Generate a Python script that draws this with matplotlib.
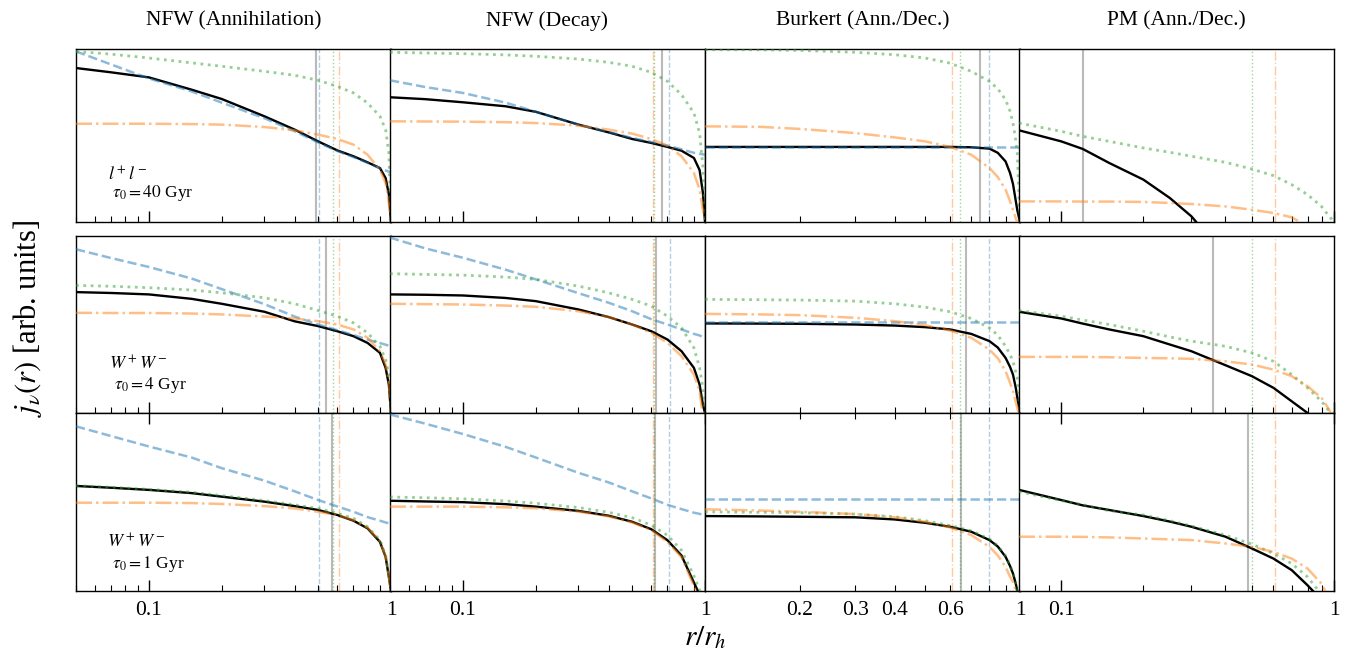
import matplotlib
matplotlib.use("Agg")
import matplotlib.pyplot as plt
from matplotlib.ticker import FixedLocator, NullFormatter, LogLocator

plt.rcParams['font.family'] = 'serif'
plt.rcParams['font.serif'] = ['Liberation Serif', 'DejaVu Serif']
plt.rcParams['mathtext.fontset'] = 'stix'
plt.rcParams['axes.linewidth'] = 1.0

# ---------------- data ----------------
COLUMN_TITLES = ["NFW (Annihilation)", "NFW (Decay)", "Burkert (Ann./Dec.)", "PM (Ann./Dec.)"]
ROW_LABELS = [r"$l^+l^-$", r"$W^+W^-$", r"$W^+W^-$"]
ROW_TAU = [r"$\tau_0=40$ Gyr", r"$\tau_0=4$ Gyr", r"$\tau_0=1$ Gyr"]
XLIMS = [(0.05, 1.0), (0.05, 1.0), (0.1, 1.0), (0.07, 1.0)]

R_NFW = [0.05, 0.07, 0.1, 0.15, 0.2, 0.3, 0.4, 0.5, 0.6, 0.7, 0.8, 0.9, 0.95, 0.98, 1.0]
R_BUR = [0.1, 0.15, 0.2, 0.3, 0.4, 0.5, 0.6, 0.7, 0.8, 0.85, 0.9, 0.93, 0.95, 0.97, 0.98, 1.0]
R_PM = [0.07, 0.1, 0.12, 0.15, 0.2, 0.25, 0.3, 0.4, 0.5, 0.6, 0.7, 0.8, 0.9, 0.95, 1.0]

# row 1: l+l-, tau0 = 40 Gyr
nfwa_ll_total = [0.890, 0.865, 0.836, 0.765, 0.711, 0.611, 0.534, 0.466, 0.414, 0.380, 0.345, 0.312, 0.254, 0.16, 0.0]
nfwa_ll_dashed = [0.986, 0.91, 0.83, 0.755, 0.69, 0.60, 0.525, 0.46, 0.41, 0.375, 0.342, 0.31, 0.298, 0.291, 0.287]
nfwa_ll_dotted = [0.986, 0.97, 0.948, 0.92, 0.900, 0.871, 0.848, 0.819, 0.784, 0.746, 0.688, 0.611, 0.534, 0.40, 0.0]
nfwa_ll_dashdot = [0.568, 0.568, 0.568, 0.566, 0.563, 0.549, 0.530, 0.505, 0.480, 0.447, 0.389, 0.302, 0.225, 0.11, 0.0]

nfwd_ll_total = [0.721, 0.71, 0.692, 0.669, 0.637, 0.563, 0.518, 0.480, 0.457, 0.434, 0.412, 0.37, 0.30, 0.17, 0.0]
nfwd_ll_dashed = [0.819, 0.78, 0.746, 0.69, 0.637, 0.563, 0.52, 0.486, 0.462, 0.441, 0.42, 0.40, 0.394, 0.391, 0.389]
nfwd_ll_dotted = [0.981, 0.977, 0.973, 0.966, 0.958, 0.942, 0.923, 0.900, 0.865, 0.813, 0.736, 0.630, 0.514, 0.32, 0.0]
nfwd_ll_dashdot = [0.582, 0.581, 0.580, 0.577, 0.572, 0.557, 0.534, 0.511, 0.480, 0.441, 0.380, 0.283, 0.187, 0.07, 0.0]

bur_ll_total = [0.434, 0.434, 0.434, 0.434, 0.434, 0.434, 0.434, 0.432, 0.424, 0.40, 0.35, 0.283, 0.22, 0.12, 0.07, 0.0]
bur_ll_dashed = [0.436, 0.436, 0.436, 0.436, 0.436, 0.436, 0.436, 0.436, 0.436, 0.436, 0.436, 0.436, 0.436, 0.436, 0.436, 0.436]
bur_ll_dotted = [0.996, 0.995, 0.992, 0.981, 0.967, 0.948, 0.918, 0.871, 0.813, 0.77, 0.707, 0.64, 0.572, 0.47, 0.40, 0.0]
bur_ll_dashdot = [0.553, 0.550, 0.538, 0.514, 0.489, 0.466, 0.434, 0.389, 0.312, 0.26, 0.187, 0.12, 0.071, 0.02, 0.0, -0.05]

pm_ll_total = [0.530, 0.466, 0.422, 0.341, 0.245, 0.139, 0.033, -0.2, -0.4, -0.5, -0.6, -0.7, -0.8, -0.85, -0.9]
pm_ll_dotted = [0.572, 0.524, 0.495, 0.466, 0.428, 0.403, 0.380, 0.345, 0.306, 0.268, 0.216, 0.158, 0.09, 0.042, 0.0]
pm_ll_dashdot = [0.119, 0.119, 0.118, 0.118, 0.116, 0.11, 0.104, 0.09, 0.071, 0.052, 0.027, -0.025, -0.1, -0.15, -0.2]

# row 2: W+W-, tau0 = 4 Gyr
nfwa_ww4_total = [0.683, 0.678, 0.670, 0.645, 0.617, 0.572, 0.518, 0.491, 0.462, 0.434, 0.396, 0.340, 0.255, 0.160, 0.0]
nfwa_ww4_dashed = [0.925, 0.875, 0.825, 0.76, 0.70, 0.615, 0.545, 0.50, 0.468, 0.44, 0.415, 0.395, 0.386, 0.380, 0.377]
nfwa_ww4_dotted = [0.721, 0.716, 0.708, 0.695, 0.679, 0.651, 0.617, 0.579, 0.547, 0.509, 0.453, 0.377, 0.302, 0.217, 0.0]
nfwa_ww4_dashdot = [0.566, 0.565, 0.565, 0.562, 0.557, 0.545, 0.534, 0.519, 0.500, 0.472, 0.425, 0.349, 0.274, 0.179, 0.0]

nfwd_ww4_total = [0.670, 0.668, 0.664, 0.650, 0.632, 0.585, 0.542, 0.500, 0.462, 0.415, 0.349, 0.255, 0.160, 0.047, 0.0]
nfwd_ww4_dashed = [0.991, 0.93, 0.877, 0.81, 0.755, 0.677, 0.623, 0.575, 0.53, 0.50, 0.472, 0.447, 0.438, 0.43, 0.425]
nfwd_ww4_dotted = [0.787, 0.783, 0.779, 0.768, 0.755, 0.717, 0.679, 0.642, 0.604, 0.547, 0.481, 0.368, 0.255, 0.14, 0.0]
nfwd_ww4_dashdot = [0.617, 0.615, 0.613, 0.607, 0.600, 0.575, 0.542, 0.500, 0.453, 0.396, 0.321, 0.217, 0.123, -0.02, -0.05]

bur_ww4_total = [0.506, 0.505, 0.504, 0.500, 0.494, 0.485, 0.472, 0.447, 0.406, 0.37, 0.311, 0.26, 0.217, 0.14, 0.09, 0.0]
bur_ww4_dashed = [0.515, 0.515, 0.515, 0.515, 0.515, 0.515, 0.515, 0.515, 0.515, 0.515, 0.515, 0.515, 0.515, 0.515, 0.515, 0.515]
bur_ww4_dotted = [0.642, 0.640, 0.638, 0.632, 0.617, 0.598, 0.572, 0.534, 0.481, 0.44, 0.377, 0.33, 0.292, 0.23, 0.198, 0.0]
bur_ww4_dashdot = [0.560, 0.557, 0.553, 0.538, 0.519, 0.496, 0.466, 0.425, 0.358, 0.31, 0.236, 0.17, 0.123, 0.06, 0.03, -0.03]

pm_ww4_total = [0.572, 0.534, 0.505, 0.472, 0.434, 0.387, 0.349, 0.270, 0.208, 0.142, 0.066, 0.0, -0.1, -0.15, -0.2]
pm_ww4_dotted = [0.579, 0.547, 0.525, 0.500, 0.462, 0.43, 0.406, 0.377, 0.340, 0.292, 0.217, 0.142, 0.066, 0.02, 0.0]
pm_ww4_dashdot = [0.317, 0.317, 0.317, 0.315, 0.311, 0.309, 0.306, 0.292, 0.274, 0.245, 0.208, 0.151, 0.085, 0.03, -0.03]

# row 3: W+W-, tau0 = 1 Gyr
nfwa_ww1_total = [0.590, 0.58, 0.568, 0.55, 0.530, 0.502, 0.477, 0.455, 0.427, 0.395, 0.352, 0.276, 0.192, 0.079, 0.0]
nfwa_ww1_dashed = [0.925, 0.87, 0.812, 0.75, 0.690, 0.62, 0.56, 0.511, 0.475, 0.445, 0.415, 0.395, 0.385, 0.38, 0.376]
nfwa_ww1_dotted = [0.592, 0.583, 0.571, 0.555, 0.536, 0.508, 0.484, 0.464, 0.437, 0.408, 0.361, 0.286, 0.201, 0.088, 0.0]
nfwa_ww1_dashdot = [0.496, 0.496, 0.496, 0.494, 0.489, 0.477, 0.464, 0.445, 0.427, 0.398, 0.356, 0.280, 0.195, 0.08, 0.0]

nfwd_ww1_total = [0.507, 0.503, 0.499, 0.488, 0.474, 0.450, 0.423, 0.389, 0.347, 0.285, 0.199, 0.047, -0.02, -0.06, -0.1]
nfwd_ww1_dashed = [0.992, 0.94, 0.882, 0.81, 0.750, 0.664, 0.61, 0.560, 0.52, 0.484, 0.46, 0.44, 0.433, 0.43, 0.427]
nfwd_ww1_dotted = [0.528, 0.524, 0.518, 0.506, 0.493, 0.469, 0.442, 0.412, 0.370, 0.313, 0.228, 0.085, 0.005, -0.05, -0.1]
nfwd_ww1_dashdot = [0.474, 0.474, 0.474, 0.470, 0.465, 0.446, 0.419, 0.385, 0.342, 0.275, 0.190, 0.028, -0.05, -0.1, -0.15]

bur_ww1_total = [0.421, 0.419, 0.417, 0.414, 0.402, 0.383, 0.361, 0.333, 0.286, 0.25, 0.192, 0.14, 0.098, 0.04, 0.0, -0.05]
bur_ww1_dashed = [0.517, 0.517, 0.517, 0.517, 0.517, 0.517, 0.517, 0.517, 0.517, 0.517, 0.517, 0.517, 0.517, 0.517, 0.517, 0.517]
bur_ww1_dotted = [0.445, 0.442, 0.440, 0.432, 0.417, 0.395, 0.368, 0.338, 0.292, 0.255, 0.197, 0.145, 0.1, 0.042, 0.0, -0.05]
bur_ww1_dashdot = [0.459, 0.452, 0.445, 0.432, 0.414, 0.389, 0.357, 0.314, 0.248, 0.2, 0.135, 0.08, 0.05, 0.0, -0.03, -0.08]

pm_ww1_total = [0.568, 0.511, 0.481, 0.455, 0.421, 0.39, 0.361, 0.305, 0.239, 0.182, 0.117, 0.032, -0.05, -0.1, -0.15]
pm_ww1_dotted = [0.558, 0.508, 0.485, 0.451, 0.427, 0.395, 0.365, 0.314, 0.263, 0.211, 0.154, 0.079, -0.02, -0.05, -0.1]
pm_ww1_dashdot = [0.305, 0.305, 0.304, 0.301, 0.295, 0.29, 0.286, 0.267, 0.248, 0.220, 0.182, 0.126, 0.041, -0.03, -0.05]

# characteristic radii (vertical lines), rows x columns
VL_GRAY = [[0.489, 0.667, 0.746, 0.12], [0.538, 0.625, 0.674, 0.359], [0.568, 0.62, 0.65, 0.483]]
VL_BLUE = [[0.505, 0.71, 0.798, None], [0.504, 0.714, 0.798, None], [0.505, 0.71, 0.798, None]]
VL_GREEN = [[0.576, 0.617, 0.645, 0.5], [0.577, 0.615, 0.646, 0.5], [0.576, 0.613, 0.645, 0.5]]
VL_ORANGE = [[0.61, 0.608, 0.608, 0.608], [0.61, 0.608, 0.607, 0.608], [0.61, 0.608, 0.608, 0.608]]

# ---------------- assemble ----------------
GRIDS = [R_NFW, R_NFW, R_BUR, R_PM]
PANELS = [
    [(nfwa_ll_total, nfwa_ll_dashed, nfwa_ll_dotted, nfwa_ll_dashdot),
     (nfwd_ll_total, nfwd_ll_dashed, nfwd_ll_dotted, nfwd_ll_dashdot),
     (bur_ll_total, bur_ll_dashed, bur_ll_dotted, bur_ll_dashdot),
     (pm_ll_total, None, pm_ll_dotted, pm_ll_dashdot)],
    [(nfwa_ww4_total, nfwa_ww4_dashed, nfwa_ww4_dotted, nfwa_ww4_dashdot),
     (nfwd_ww4_total, nfwd_ww4_dashed, nfwd_ww4_dotted, nfwd_ww4_dashdot),
     (bur_ww4_total, bur_ww4_dashed, bur_ww4_dotted, bur_ww4_dashdot),
     (pm_ww4_total, None, pm_ww4_dotted, pm_ww4_dashdot)],
    [(nfwa_ww1_total, nfwa_ww1_dashed, nfwa_ww1_dotted, nfwa_ww1_dashdot),
     (nfwd_ww1_total, nfwd_ww1_dashed, nfwd_ww1_dotted, nfwd_ww1_dashdot),
     (bur_ww1_total, bur_ww1_dashed, bur_ww1_dotted, bur_ww1_dashdot),
     (pm_ww1_total, None, pm_ww1_dotted, pm_ww1_dashdot)],
]

BLUE = '#1f77b4'
ORANGE = '#ff7f0e'
GREEN = '#2ca02c'

W, H = 1345, 654
fig = plt.figure(figsize=(W / 100, H / 100), dpi=100)

col_left_px = [76, 390, 705, 1019]
col_w_px = 315
row_top_px = [49, 236, 413]
row_bot_px = [222, 413, 591]

for i in range(3):
    for j in range(4):
        x0 = col_left_px[j] / W
        y0 = 1 - row_bot_px[i] / H
        h = (row_bot_px[i] - row_top_px[i]) / H
        ax = fig.add_axes([x0, y0, col_w_px / W, h])
        ax.set_xscale('log')
        ax.set_xlim(*XLIMS[j])
        ax.set_ylim(0, 1)
        r = GRIDS[j]
        total, dashed, dotted, dashdot = PANELS[i][j]

        # vertical characteristic radii
        ax.axvline(VL_GRAY[i][j], color='0.55', lw=1.5, alpha=0.6, zorder=1)
        if VL_BLUE[i][j] is not None:
            ax.axvline(VL_BLUE[i][j], color=BLUE, lw=1.0, ls='--', alpha=0.35, zorder=1)
        ax.axvline(VL_GREEN[i][j], color=GREEN, lw=1.0, ls=':', alpha=0.45, zorder=1)
        ax.axvline(VL_ORANGE[i][j], color=ORANGE, lw=1.0, ls='-.', alpha=0.4, zorder=1)

        ax.plot(r, total, color='k', lw=1.7, zorder=2)
        if dashed is not None:
            ax.plot(r, dashed, color=BLUE, lw=1.8, ls='--', alpha=0.5, zorder=3)
        ax.plot(r, dotted, color=GREEN, lw=2.0, ls=':', alpha=0.5, zorder=3)
        ax.plot(r, dashdot, color=ORANGE, lw=1.8, ls='-.', alpha=0.5, zorder=3)

        ax.set_yticks([])
        ax.tick_params(axis='x', which='both', direction='in', top=False, bottom=True,
                       labelsize=15.5, pad=7)
        ax.tick_params(axis='x', which='major', length=8, width=1.0)
        ax.tick_params(axis='x', which='minor', length=4, width=0.8)
        if j == 2:
            ax.xaxis.set_major_locator(FixedLocator([0.2, 0.3, 0.4, 0.6, 1.0]))
            ax.xaxis.set_minor_locator(FixedLocator([0.5, 0.7, 0.8, 0.9]))
            ax.tick_params(axis='x', which='major', length=4, width=0.8)
            ax.set_xticklabels(['0.2', '0.3', '0.4', '0.6', '1'])
        else:
            ax.xaxis.set_major_locator(FixedLocator([0.1, 1.0]))
            ax.xaxis.set_minor_locator(LogLocator(base=10, subs=range(2, 10)))
            ax.set_xticklabels(['0.1', '1'])
        ax.xaxis.set_minor_formatter(NullFormatter())
        if i < 2:
            ax.tick_params(axis='x', which='both', labelbottom=False)
        else:
            ax.tick_params(axis='x', which='major', top=True)

        if j == 0:
            lx = [0.10, 0.105, 0.098][i]
            ly = [0.272, 0.274, 0.276][i]
            ty = [0.168, 0.16, 0.154][i]
            ax.text(lx, ly, ROW_LABELS[i], transform=ax.transAxes, fontsize=13,
                    va='center', ha='left')
            ax.text(lx + 0.015, ty, ROW_TAU[i], transform=ax.transAxes, fontsize=12.5,
                    va='center', ha='left')

for j, title in enumerate(COLUMN_TITLES):
    xc = (col_left_px[j] + col_w_px / 2) / W
    fig.text(xc, 1 - 21 / H, title, ha='center', va='center', fontsize=15.5)

fig.text(705 / W, 1 - 638 / H, r'$r/r_h$', ha='center', va='center', fontsize=21)
fig.text(28 / W, 1 - 318 / H, r'$j_\nu(r)$ [arb. units]', ha='center', va='center',
         rotation=90, fontsize=22)

fig.savefig('out.png', dpi=100)
